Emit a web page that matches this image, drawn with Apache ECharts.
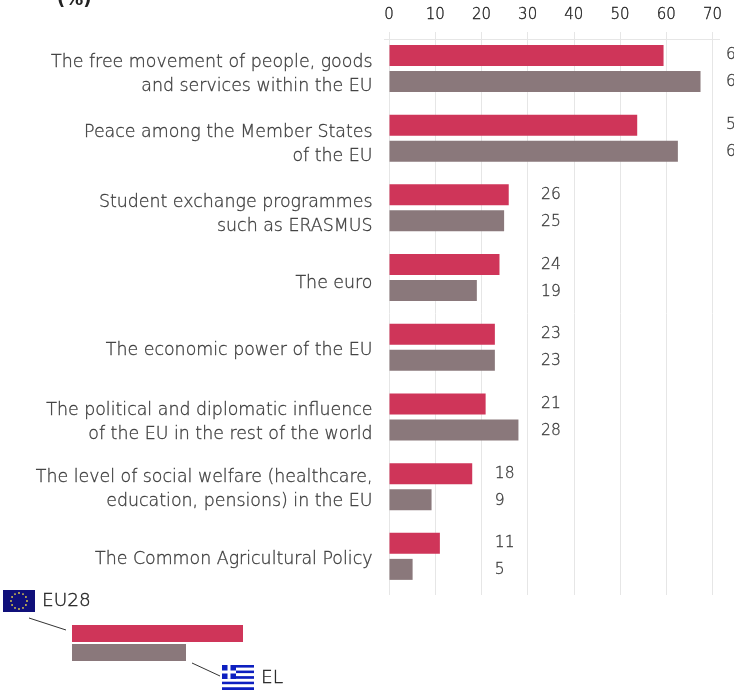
<!DOCTYPE html>
<html><head><meta charset="utf-8">
<style>html,body{margin:0;padding:0;background:#fff}#c{width:734px;height:691px}</style>
<script src="https://cdn.jsdelivr.net/npm/echarts@6/dist/echarts.min.js"></script>
</head><body><div id="c"></div>
<script>
var categories = [
 "The free movement of people, goods\nand services within the EU",
 "Peace among the Member States\nof the EU",
 "Student exchange programmes\nsuch as ERASMUS",
 "The euro",
 "The economic power of the EU",
 "The political and diplomatic influence\nof the EU in the rest of the world",
 "The level of social welfare (healthcare,\neducation, pensions) in the EU",
 "The Common Agricultural Policy"];
var eu28Bars = [59.3,53.6,25.8,23.8,22.8,20.8,17.9,10.9];
var elBars   = [67.3,62.4,24.8,18.9,22.8,27.9,9.1,5];
var eu28Labels = [60,54,26,24,23,21,18,11];
var elLabels   = [67,62,25,19,23,28,9,5];
var xTicks = [0,10,20,30,40,50,60,70];
var catNudge = [6,6,6.5,5.5,3,6,2.5,3.5];
var RED='#CF3559', GREY='#8A787B', FONT='"DejaVu Sans"', TXT='#222';
var INK={textBorderColor:'#222',textBorderWidth:0.35};

function col(i){ return Math.ceil(Math.max(eu28Labels[i],elLabels[i])/10)*10+2.8; }
function labelSeries(name,labels,off){
  return {type:'scatter',name:name,xAxisIndex:1,yAxisIndex:1,symbolSize:0,silent:true,
    data:labels.map(function(v,i){return {value:[col(i),i],label:{formatter:String(v)}};}),
    label:Object.assign({show:true,position:'right',distance:0,offset:[0,off],fontFamily:FONT,fontWeight:200,fontSize:15.5,color:TXT},INK),
    clip:false};
}
var stars=[];
for(var k=0;k<12;k++){var a=k*Math.PI/6;
  stars.push({type:'circle',shape:{cx:19+8*Math.cos(a),cy:601+8*Math.sin(a),r:0.9},style:{fill:'#E8D24A'}});}
var gr=[];
for(var s=0;s<9;s++){gr.push({type:'rect',shape:{x:222,y:665+s*2.78,width:32,height:2.78},style:{fill:s%2?'#fff':'#0D1FC0'}});}
gr.push({type:'rect',shape:{x:222,y:665,width:14,height:13.9},style:{fill:'#0D1FC0'}});
gr.push({type:'rect',shape:{x:227.5,y:665,width:3,height:13.9},style:{fill:'#fff'}});
gr.push({type:'rect',shape:{x:222,y:670.5,width:14,height:3},style:{fill:'#fff'}});

var graphic=[
 {type:'text',left:57,top:-9,style:{text:'(%)',font:'bold 18px '+FONT,fill:'#222'}},
 {type:'line',shape:{x1:384,y1:39.5,x2:720,y2:39.5},style:{stroke:'#E6E6E6',lineWidth:1}},
 {type:'rect',shape:{x:3,y:590,width:32,height:22},style:{fill:'#10107A'}}
].concat(stars).concat(gr).concat([
 {type:'text',x:42,y:592,style:{text:'EU28',font:'200 18.5px '+FONT,fill:TXT,stroke:'#222',lineWidth:0.35}},
 {type:'text',x:261,y:669,style:{text:'EL',font:'200 18.5px '+FONT,fill:TXT,stroke:'#222',lineWidth:0.35}},
 {type:'line',shape:{x1:29,y1:618,x2:66,y2:630},style:{stroke:'#333',lineWidth:1}},
 {type:'line',shape:{x1:192,y1:663,x2:220,y2:676},style:{stroke:'#333',lineWidth:1}},
 {type:'rect',shape:{x:72,y:625,width:171,height:17},style:{fill:RED}},
 {type:'rect',shape:{x:72,y:644,width:114,height:17},style:{fill:GREY}}
]);

var chart=echarts.init(document.getElementById('c'),null,{renderer:'canvas'});
chart.setOption({
 animation:false,
 backgroundColor:'#fff',
 grid:[
  {left:389,width:323.5,top:32,height:563},
  {left:389.5,width:323.5,top:33.6,height:557.6}
 ],
 xAxis:[
  {gridIndex:0,type:'value',position:'top',min:0,max:70,interval:10,
   axisLine:{show:false},axisTick:{show:false},
   axisLabel:Object.assign({margin:9,fontFamily:FONT,fontWeight:200,fontSize:15,color:TXT,formatter:function(v){return xTicks.indexOf(v)>=0?String(v):'';}},INK),
   splitLine:{show:true,lineStyle:{color:'#E6E6E6',width:1}}},
  {gridIndex:1,type:'value',min:0,max:70,interval:10,show:false}
 ],
 yAxis:[
  {gridIndex:0,type:'value',show:false},
  {gridIndex:1,type:'category',inverse:true,data:categories,
   axisLine:{show:false},axisTick:{show:false},axisLabel:{show:false}}
 ],
 series:[
  {type:'bar',name:'EU28',xAxisIndex:1,yAxisIndex:1,data:eu28Bars,barWidth:21,barGap:'24%',itemStyle:{color:RED}},
  {type:'bar',name:'EL',xAxisIndex:1,yAxisIndex:1,data:elBars,barWidth:21,barGap:'24%',itemStyle:{color:GREY}},
  labelSeries('EU28 labels',eu28Labels,-13),
  labelSeries('EL labels',elLabels,14),
  {type:'scatter',name:'category labels',xAxisIndex:1,yAxisIndex:1,symbolSize:0,silent:true,clip:false,
   data:categories.map(function(c,i){return {value:[0,i],label:{formatter:c,offset:[0,catNudge[i]]}};}),
   label:Object.assign({show:true,position:'left',distance:17,align:'right',fontFamily:FONT,fontWeight:200,fontSize:17.4,lineHeight:24,color:TXT},INK)}
 ],
 graphic:graphic
});
</script></body></html>
